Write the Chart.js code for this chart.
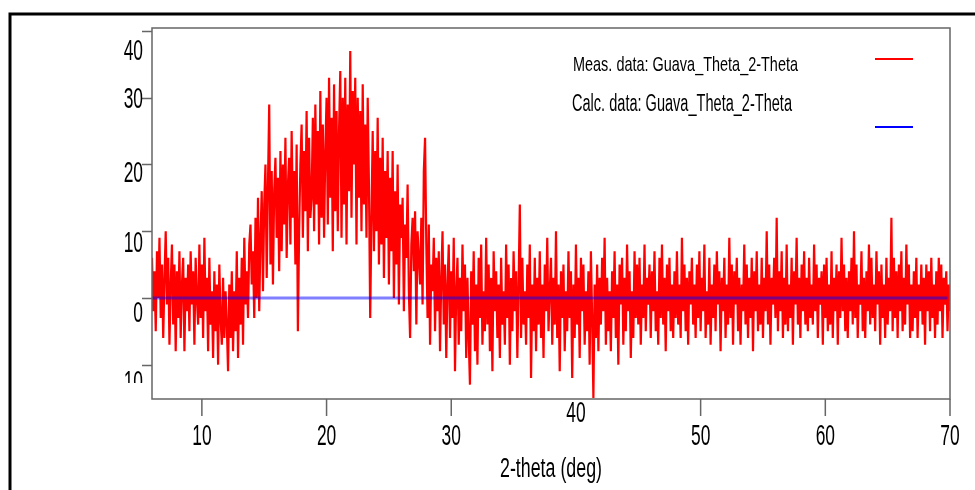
<!DOCTYPE html>
<html>
<head>
<meta charset="utf-8">
<script src="https://cdn.jsdelivr.net/npm/chart.js@4.4.1/dist/chart.umd.min.js"></script>
<style>
  html, body { margin: 0; padding: 0; background: #fff; }
  #wrap { width: 975px; height: 490px; position: relative; }
</style>
</head>
<body>
<div id="wrap"><canvas id="xrd"></canvas></div>
<script>
// Scan grid (deg)
const startAngle = 6.0;
const stepAngle = 0.1;

const measCounts = [
  6, -2, 4, -5, 7, 0, 9, -3, 5, -6,
  3, 10, -1, 6, -7, 2, 8, -4, 5, -8,
  4, -3, 7, -6, 2, 6, -8, 3, -2, 5,
  -5, 7, -1, 4, -7, 6, 0, -4, 8, -3,
  5, -6, 9, -2, 3, -8, 6, -4, 1, -9,
  4, -5, 2, -10, 5, -3, -7, 3, -6, 1,
  -4, -11, 2, -6, 4, -8, 1, -5, 7, -9,
  3, -4, 6, -7, 9, -1, 4, -3, 8, 11,
  2, 7, -3, 12, 0, 15, -2, 9, 16, 1,
  14, 20, 3, 17, 29, 5, 19, 2, 16, 21,
  9, 18, 4, 22, 7, 20, 11, 24, 6, 17,
  21, 8, 25, 12, 19, 5, 23, -5, 10, 20,
  26, 9, 22, 13, 28, 7, 24, 12, 15, 27,
  10, 29, 14, 25, 8, 31, 12, 26, 9, 22,
  30, 11, 33, 15, 27, 7, 32, 13, 28, 10,
  25, 34, 9, 30, 14, 33, 8, 29, 16, 37,
  12, 31, 20, 33, 8, 30, 15, 28, 10, 32,
  14, 26, 9, 30, 17, -3, 12, 25, 7, 22,
  10, 27, 5, 21, 8, 24, 3, 19, 9, 22,
  2, 18, 7, 22, 0, 16, 5, 20, -1, 14,
  9, 15, -2, 11, 6, 17, 1, -6, 8, 12,
  4, 13, -4, 10, 6, 2, 12, -1, 19, 24,
  8, -3, 11, -7, 5, 1, 9, -5, 6, -2,
  7, -8, 3, 10, -4, 5, -9, 2, 8, -6,
  4, -3, 9, -11, 1, 6, -7, 3, -5, 8,
  -2, 5, -9, 3, -6, -13, 4, -4, 7, -8,
  2, -10, 6, -3, 8, -7, 1, -5, 9, -4,
  5, -8, 3, -11, 7, -2, 4, -6, 2, -9,
  6, -4, 1, -7, 8, -3, 5, -10, 3, -5,
  7, -2, 4, -9, 2, 14, -6, 6, -4, 1,
  -7, 5, -3, 8, -12, 2, -5, 6, -8, 3,
  -4, 7, -6, 2, -9, 5, -2, 9, -5, 1,
  6, -7, 3, -4, 10, -6, 2, -11, 4, -3,
  5, -8, 1, -5, 7, -3, 4, -12, 2, -6,
  8, -4, 3, -9, 6, -2, 5, -7, 1, -5,
  4, -10, 7, -3, -15, 2, -6, 5, -8, 3,
  -4, 6, -2, 9, -7, 3, -5, 1, -8, 4,
  -3, 7, -6, 2, -10, 5, -1, 6, -7, 3,
  -5, 8, -2, 4, -9, 1, -6, 7, -3, 5,
  -4, 6, -7, 2, -3, 8, -5, 3, -1, 5,
  -6, 4, -2, 7, -5, 1, -7, 6, -3, 8,
  -4, 3, -8, 5, -2, 6, -5, 2, -6, 4,
  -3, 7, -4, 2, -6, 9, -2, 5, -5, 3,
  -7, 4, -1, 6, -4, 2, -6, 5, -3, 7,
  -5, 3, -2, 8, -6, 1, -4, 6, -7, 2,
  -3, 5, -5, 7, -1, 4, -8, 3, -2, 6,
  -6, 2, -4, 9, -3, 5, -7, 4, -1, 6,
  -5, 3, -7, 2, -2, 8, -4, 5, -6, 3,
  -3, 6, -8, 4, -2, 7, -5, 2, -4, 6,
  -6, 3, -2, 10, -4, 5, -7, 3, -1, 6,
  -3, 12, -5, 4, -2, 7, -6, 3, -4, 8,
  -5, 2, -3, 6, -7, 4, -1, 9, -4, 3,
  -6, 5, -2, 7, -4, 3, -5, 6, -3, 2,
  -4, 8, -2, 5, -6, 3, -1, 4, -7, 5,
  -3, 6, -5, 2, -4, 7, -6, 3, -2, 5,
  -7, 4, -3, 9, -2, 5, -5, 3, -6, 4,
  -2, 6, -4, 10, -3, 5, -6, 2, -1, 7,
  -5, 3, -6, 4, -2, 8, -4, 6, -3, 2,
  -5, 7, -1, 4, -7, 5, -3, 2, -6, 6,
  -4, 3, -2, 12, -5, 6, -3, 4, -6, 5,
  -2, 7, -5, 3, -4, 8, -1, 5, -6, 2,
  -5, 4, -3, 6, -6, 2, -2, 5, -4, 3,
  -7, 5, -2, 4, -5, 6, -3, 2, -6, 4,
  -4, 6, -2, 5, -6, 3, -1, 4, -5, 2,
  -2
];

// Calculated pattern (flat)
const calcAngles = [6.0, 69.8];
const calcCounts = [0, 0];

const xTicks = [10, 20, 30, 40, 50, 60, 70];
const xTickLabels = ['10', '20', '30', '40', '50', '60', '70'];
const yTicks = [40, 30, 20, 10, 0, -10];
const yTickLabels = ['40', '30', '20', '10', '0', '10'];

const seriesNames = ['Meas. data: Guava_Theta_2-Theta', 'Calc. data: Guava_Theta_2-Theta'];
const axisTitle = '2-theta (deg)';

// label nudges (px below tick) to sit like the original export
const yLabelDrop = [29, 10, 18, 21, 24, 26];
const xLabelDrop = [46, 46, 46, 23, 46, 46, 46];

const FONT = '"Liberation Sans", Arial, sans-serif';
const AXIS_GRAY = '#666';

function drawText(ctx, text, x, y, size, sx, align) {
    ctx.save();
    ctx.font = size + 'px ' + FONT;
    ctx.textAlign = align;
    ctx.textBaseline = 'alphabetic';
    ctx.fillStyle = '#000';
    ctx.translate(x, y);
    ctx.scale(sx, 1);
    ctx.fillText(text, 0, 0);
    ctx.restore();
}

function drawTextWidth(ctx, text, x, y, size, width, align) {
    ctx.save();
    ctx.font = size + 'px ' + FONT;
    const w = ctx.measureText(text).width;
    ctx.restore();
    drawText(ctx, text, x, y, size, width / w, align);
}

const measPoints = measCounts.map((v, i) => ({ x: +(startAngle + i * stepAngle).toFixed(2), y: v }));
const calcPoints = calcAngles.map((a, i) => ({ x: a, y: calcCounts[i] }));

// Axes, frame, labels and legend drawn in the old plotting style
const decorPlugin = {
    id: 'decor',
    afterDraw(chart) {
        const ctx = chart.ctx;
        const { left, right, top, bottom } = chart.chartArea;
        const xs = chart.scales.x, ys = chart.scales.y;

        // outer page frame
        ctx.save();
        ctx.strokeStyle = '#000';
        ctx.lineWidth = 3;
        ctx.beginPath();
        ctx.moveTo(10, 490);
        ctx.lineTo(10, 14);
        ctx.lineTo(975, 14);
        ctx.stroke();

        // plot box
        ctx.strokeStyle = AXIS_GRAY;
        ctx.lineWidth = 1.5;
        ctx.beginPath();
        ctx.moveTo(left, top);
        ctx.lineTo(right, top);
        ctx.lineTo(right, bottom);
        ctx.lineTo(left, bottom);
        ctx.closePath();
        ctx.stroke();

        // y ticks
        ctx.beginPath();
        yTicks.forEach(v => {
            const py = Math.round(ys.getPixelForValue(v)) + 0.5;
            ctx.moveTo(left - 10, py);
            ctx.lineTo(left, py);
        });
        // x ticks (40 hidden in the original)
        xTicks.forEach(v => {
            if (v === 40) return;
            const px = xs.getPixelForValue(v);
            ctx.moveTo(px, bottom);
            ctx.lineTo(px, bottom + 17);
        });
        ctx.stroke();
        ctx.restore();

        // y tick labels
        yTicks.forEach((v, i) => {
            const py = ys.getPixelForValue(v);
            ctx.save();
            if (i === yTicks.length - 1) {
                ctx.beginPath();
                ctx.rect(0, 0, left, 383);
                ctx.clip();
            }
            drawText(ctx, yTickLabels[i], left - 9, py + yLabelDrop[i], 29, 0.6, 'right');
            ctx.restore();
        });

        // x tick labels
        xTicks.forEach((v, i) => {
            const px = xs.getPixelForValue(v);
            drawText(ctx, xTickLabels[i], px, bottom + xLabelDrop[i], 29, 0.6, 'center');
        });

        // axis title
        drawTextWidth(ctx, axisTitle, 551, 477, 27, 102, 'center');

        // legend
        drawTextWidth(ctx, seriesNames[0], 573, 71, 21, 225, 'left');
        drawTextWidth(ctx, seriesNames[1], 572, 111, 23, 220, 'left');
        ctx.save();
        ctx.lineWidth = 2;
        ctx.strokeStyle = '#ff0000';
        ctx.beginPath(); ctx.moveTo(875, 59); ctx.lineTo(913, 59); ctx.stroke();
        ctx.strokeStyle = '#0000ff';
        ctx.beginPath(); ctx.moveTo(875, 127); ctx.lineTo(913, 127); ctx.stroke();
        ctx.restore();
    }
};

new Chart(document.getElementById('xrd'), {
    type: 'line',
    data: {
        datasets: [
            {
                label: seriesNames[1],
                data: calcPoints,
                borderColor: 'rgba(0, 0, 255, 0.5)',
                borderWidth: 3,
                pointRadius: 0,
                order: 0
            },
            {
                label: seriesNames[0],
                data: measPoints,
                borderColor: '#ff0000',
                borderWidth: 2.2,
                pointRadius: 0,
                tension: 0,
                order: 1
            }
        ]
    },
    options: {
        responsive: true,
        maintainAspectRatio: false,
        animation: false,
        events: [],
        layout: { padding: { left: 152, right: 25, top: 28, bottom: 91 } },
        plugins: {
            legend: { display: false },
            tooltip: { enabled: false }
        },
        scales: {
            x: { type: 'linear', min: 6, max: 70, display: false },
            y: { type: 'linear', min: -15.15, max: 40.45, display: false }
        }
    },
    plugins: [decorPlugin]
});
</script>
</body>
</html>
